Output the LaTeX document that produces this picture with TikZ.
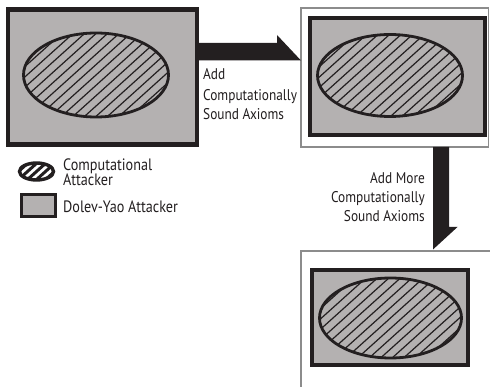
\documentclass[tikz,border=0pt]{standalone}
\usepackage{fontspec}
\setmainfont[FakeStretch=0.86]{PT Sans}
\definecolor{dyfill}{HTML}{B4B1B1}
\definecolor{ink}{HTML}{231F20}
\definecolor{framegray}{HTML}{8C8C8C}

% hatched ellipse: centre x, centre y, x radius, y radius, stripe spacing, stripe style
\newcommand\hatchedellipse[6]{%
  \begin{scope}
    \clip (#1,#2) ellipse ({#3} and {#4});
    \foreach \k in {-16,...,16}
      \draw[#6] ({#1+\k*#5-120},{#2+108}) -- ({#1+\k*#5+120},{#2-108});
  \end{scope}}

\begin{document}
\begin{tikzpicture}[x=1pt,y=-1pt,
  dybox/.style={draw=ink,line width=4.2pt,fill=dyfill,inner sep=0pt},
  ellline/.style={draw=ink,line width=2.8pt},
  hatchthin/.style={ink,line width=1.2pt},
  hatchthick/.style={ink,line width=3pt},
  frame/.style={draw=framegray,line width=1.1pt},
  bigarrow/.style={fill=ink},
  lbl/.style={font=\fontsize{15.5}{18}\selectfont,text=ink,inner sep=0pt},
  legtxt/.style={font=\fontsize{16.5}{14}\selectfont,text=ink,inner sep=0pt}]
\useasboundingbox (0,0) rectangle (490,387);
\fill[white] (0,0) rectangle (490,387);

% ---- first stage ----
\node[dybox,minimum width=189pt,minimum height=135pt] (b1) at (102.5,77) {};
\hatchedellipse{96}{75}{72.5}{42}{11.5}{hatchthin}
\draw[ellline] (96,75) ellipse (72.5 and 42);

% ---- second stage ----
\draw[frame] (301,8) rectangle (488.5,147);
\node[dybox,minimum width=175pt,minimum height=117pt] (b2) at (397.5,76.5) {};
\hatchedellipse{390}{75.5}{72.5}{41}{11.5}{hatchthin}
\draw[ellline] (390,75.5) ellipse (72.5 and 41);

% ---- third stage (frame runs off the page) ----
\coordinate (f3) at (301,251);
\draw[frame] (301,387) -- (f3) -- (490,251);
\node[dybox,minimum width=156pt,minimum height=95pt] (b3) at (390,317.5) {};
\hatchedellipse{390.5}{318}{71}{40}{11.5}{hatchthin}
\draw[ellline] (390.5,318) ellipse (71 and 40);

% ---- arrow from stage one to stage two ----
\fill[bigarrow] (b1.east |- 0,43) -- (277,43) -- (277,35) -- (301,60.5)
  -- (b1.east |- 0,60.5) -- cycle;
\node[lbl,anchor=base west] (t1a) at (203,80) {Add};
\node[lbl,anchor=base west] (t1b) at (203,101) {Computationally};
\node[lbl,anchor=base west] (t1c) at (203,120) {Sound Axioms};

% ---- arrow from stage two to stage three ----
\fill[bigarrow] (433,147) -- (449,147) -- (449,227) -- (457.5,227)
  -- (433,249.5) -- cycle;
\node[lbl,anchor=base east] (t2a) at (425,184) {Add More};
\node[lbl,anchor=base east] (t2b) at (425,203) {Computationally};
\node[lbl,anchor=base east] (t2c) at (425,222) {Sound Axioms};

% ---- legend ----
\fill[white] (36.5,171.5) ellipse (17 and 8.5);
\hatchedellipse{36.5}{171.5}{17}{8.5}{9}{hatchthick}
\draw[draw=ink,line width=3.4pt] (36.5,171.5) ellipse (17 and 8.5);
\node[legtxt,anchor=base west] (l1a) at (63,170.5) {Computational};
\node[legtxt,anchor=base west] (l1b) at (63,185.5) {Attacker};
\node[draw=ink,line width=3.4pt,fill=dyfill,inner sep=0pt,
  minimum width=33.5pt,minimum height=21.5pt] (lb) at (38.5,205.5) {};
\node[legtxt,anchor=base west] (l2) at (63,213) {Dolev-Yao Attacker};
\end{tikzpicture}
\end{document}
